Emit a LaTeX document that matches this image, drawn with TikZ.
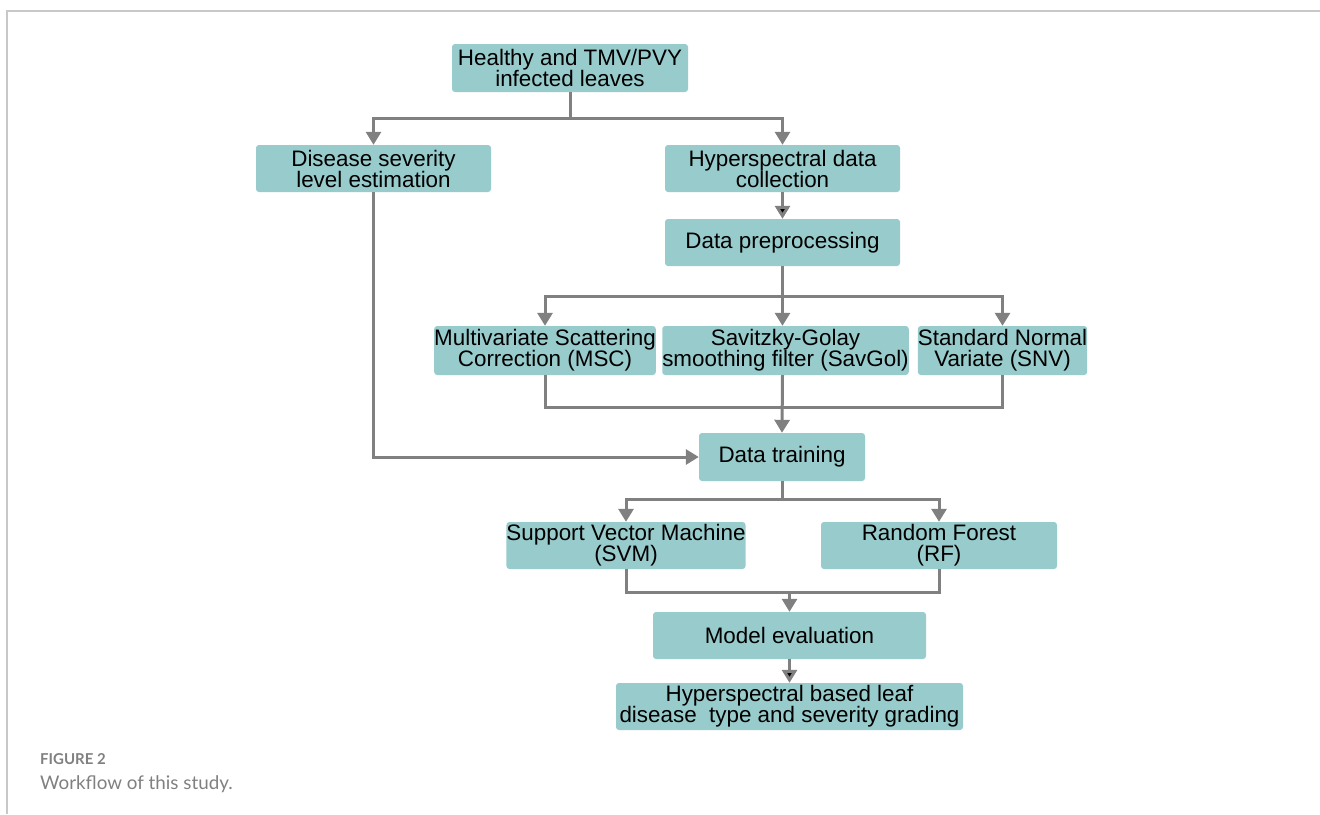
\documentclass[tikz,border=0pt]{standalone}
\usepackage{fontspec}
\setmainfont{Liberation Sans}
\newfontfamily\capfont{Lato}
\usetikzlibrary{arrows.meta}
\definecolor{boxfill}{RGB}{152,203,203}
\definecolor{linegray}{RGB}{128,128,128}
\definecolor{framegray}{RGB}{200,200,200}
\definecolor{capgray}{RGB}{128,128,128}

\begin{document}
\begin{tikzpicture}[x=1pt, y=-1pt,
	box/.style={rectangle, rounded corners=3pt, fill=boxfill, inner sep=0pt, align=center, minimum height=47pt, font=\fontsize{22.4}{21}\selectfont},
	arr/.style={draw=linegray, line width=3pt, -{Triangle[width=15pt,length=13pt]}},
	link/.style={draw=linegray, line width=3pt}]
			\useasboundingbox (0,0) rectangle (1320,814);
			\draw[framegray, line width=1.2pt] (7,814) -- (7,11) -- (1320,11);
			
			\node[box, minimum width=236pt, minimum height=48pt] (leaves) at (570,68) {Healthy and TMV/PVY\\infected leaves};
			\node[box, minimum width=235pt] (severity) at (373.5,168.5) {Disease severity\\level estimation};
			\node[box, minimum width=235pt] (collect) at (782.5,168.5) {Hyperspectral data\\collection};
			\node[box, minimum width=235pt] (preproc) at (782.5,242.5) {Data preprocessing};
			\node[box, minimum width=220pt, minimum height=49pt] (msc) at (545,350.5) {Multivariate Scattering\\Correction (MSC)};
			\node[box, minimum width=245pt, minimum height=49pt] (savgol) at (785.5,350.5) {Savitzky-Golay\\smoothing filter (SavGol)};
			\node[box, minimum width=167pt, minimum height=49pt] (snv) at (1002.5,350.5) {Standard Normal\\Variate (SNV)};
			\node[box, minimum width=166pt, minimum height=48pt] (training) at (782,457) {Data training};
			\node[box, minimum width=236pt] (svm) at (626,545.5) {Support Vector Machine\\(SVM)};
			\node[box, minimum width=236pt] (rf) at (939,545.5) {Random Forest\\(RF)};
			\node[box, minimum width=273pt] (evaluation) at (789.5,635.5) {Model evaluation};
			\node[box, minimum width=347pt] (grading) at (789.5,706.5) {Hyperspectral based leaf\\disease\ \ type and severity grading};
			
			\coordinate (split1) at (570,118);
			\coordinate (split2) at (782.5,296);
			\coordinate (merge2) at (782.5,407);
			\coordinate (split3) at (782,499);
			\coordinate (merge3) at (789.5,592);
			
			\path[link] (leaves.south) -- (split1);
			\path[arr] (split1) -| (severity.north);
			\path[arr] (split1) -| (collect.north);
			\path[arr] (collect) edge (preproc);
			\path[link] (preproc.south) -- (split2);
			\path[arr] (split2) -| (msc.north);
			\path[arr] (split2) -- (split2 |- savgol.north);
			\path[arr] (split2) -| (snv.north);
			\path[link] (msc.south) |- (merge2);
			\path[link] (snv.south) |- (merge2);
			\path[arr] (savgol.south -| merge2) -- (training.north);
			\path[arr] (severity.south) |- (training.west);
			\path[link] (training.south) -- (split3);
			\path[arr] (split3) -| (svm.north);
			\path[arr] (split3) -| (rf.north);
			\path[link] (svm.south) |- (merge3);
			\path[link] (rf.south) |- (merge3);
			\path[arr] (merge3) -- (evaluation.north);
			\path[arr] (evaluation) edge (grading);
			
			\node[anchor=base west, inner sep=0pt, text=capgray, font=\capfont\bfseries\fontsize{15}{15}\selectfont] (fignum) at (40,764) {FIGURE 2};
			\node[anchor=base west, inner sep=0pt, text=capgray, font=\capfont\fontsize{18.8}{20}\selectfont] (figcap) at (40,789) {Workflow of this study.};
\end{tikzpicture}
\end{document}
